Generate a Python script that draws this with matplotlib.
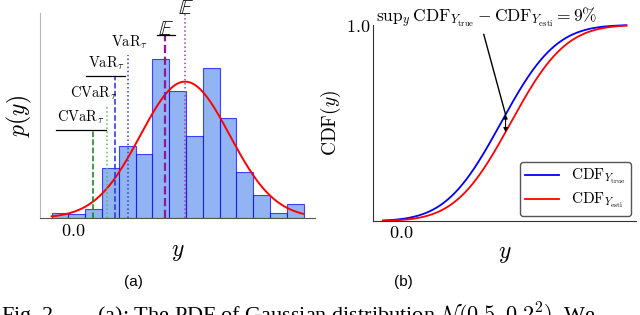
#!/usr/bin/env python3
"""PDF histogram with risk measures (a) and true vs estimated CDF (b)."""
import math

import numpy as np
import matplotlib
matplotlib.use("Agg")
import matplotlib.pyplot as plt

plt.rcParams["mathtext.fontset"] = "cm"
plt.rcParams["font.family"] = ["DejaVu Serif"]

# (a) histogram (density units)
BIN_LO, BIN_HI = -0.097, 1.03
hist_heights = [0.073, 0.063, 0.136, 0.73, 1.06, 0.93, 2.32, 1.86,
                1.20, 2.19, 1.46, 0.67, 0.33, 0.073, 0.20]
pdf_mu, pdf_sigma = 0.5, 0.2

# vertical markers: x position, top height, label, underlined?, colour, style
mark_x = [0.090, 0.149, 0.187, 0.243, 0.409, 0.500]
mark_top = [1.29, 1.64, 2.08, 2.38, 2.68, 2.99]
mark_labels = [r"$\mathrm{CVaR}_\tau$", r"$\mathrm{CVaR}_\tau$",
               r"$\mathrm{VaR}_\tau$", r"$\mathrm{VaR}_\tau$",
               r"$\mathbb{E}$", r"$\mathbb{E}$"]
mark_under = [True, False, True, False, True, False]
mark_colors = ["#1a7a1a", "#55bb55", "#1f2fe0", "#3040d0", "#8a1a9a", "#a040b0"]
mark_styles = ["--", ":", "--", ":", "--", ":"]
label_dx = [-0.056, -0.059, -0.041, 0.007, 0.004, 0.003]

# (b) CDFs
cdf_true_mu, cdf_esti_mu, cdf_sigma = 0.46, 0.505, 0.2
cdf_lo, cdf_hi = -0.085, 1.04


def norm_cdf(x, mu, s):
    return np.array([0.5 * (1 + math.erf((v - mu) / (s * math.sqrt(2)))) for v in x])


fig = plt.figure(figsize=(6.4, 3.15), dpi=100)
ax1 = fig.add_axes([0.0625, 0.308, 0.430, 0.651])
ax2 = fig.add_axes([0.583, 0.298, 0.411, 0.623])

# ---- panel (a)
edges = np.linspace(BIN_LO, BIN_HI, len(hist_heights) + 1)
ax1.bar(edges[:-1], hist_heights, width=np.diff(edges), align="edge",
        color="#6495ED", alpha=0.7, edgecolor="blue", linewidth=0.8)
xs = np.linspace(BIN_LO, BIN_HI, 300)
ax1.plot(xs, np.exp(-0.5 * ((xs - pdf_mu) / pdf_sigma) ** 2) / (pdf_sigma * math.sqrt(2 * math.pi)),
         color="red", lw=1.4)

texts = []
for x, top, lab, und, c, ls, dx in zip(mark_x, mark_top, mark_labels, mark_under,
                                        mark_colors, mark_styles, label_dx):
    is_e = "mathbb" in lab
    lw = 1.6 if c.startswith("#8a") else 1.1
    ax1.plot([x, x], [0, top], color=c, ls=ls, lw=lw, clip_on=False)
    if is_e:
        t = ax1.text(x + dx, top + 0.0, lab, ha="center", va="baseline",
                     fontsize=15, math_fontfamily="stix", clip_on=False)
    else:
        t = ax1.text(x + dx, top + 0.06, lab, ha="center", va="bottom",
                     fontsize=10.5, clip_on=False)
    texts.append((t, und, top))

ax1.set_xlim(-0.149, 1.082)
ax1.set_ylim(0, 3.0)
ax1.set_xticks([0.0])
ax1.set_xticklabels([r"$0.0$"], fontsize=13)
ax1.set_yticks([])
ax1.tick_params(length=0, pad=3)
ax1.set_xlabel(r"$y$", fontsize=17, labelpad=0)
ax1.set_ylabel(r"$p(y)$", fontsize=17, labelpad=4)
for s in ("top", "right"):
    ax1.spines[s].set_visible(False)
ax1.spines["left"].set_color("#b8b8b8")
ax1.spines["bottom"].set_color("#555555")

# ---- panel (b)
ys = np.linspace(cdf_lo, cdf_hi, 400)
c_true = norm_cdf(ys, cdf_true_mu, cdf_sigma)
c_esti = norm_cdf(ys, cdf_esti_mu, cdf_sigma)
ax2.plot(ys, c_true, color="blue", lw=1.3, label=r"$\mathrm{CDF}_{Y_{\mathrm{true}}}$", clip_on=False)
ax2.plot(ys, c_esti, color="red", lw=1.3, label=r"$\mathrm{CDF}_{Y_{\mathrm{esti}}}$", clip_on=False)

k = int(np.argmax(c_true - c_esti))
ax2.annotate("", xy=(ys[k], c_esti[k]), xytext=(ys[k], c_true[k]),
             arrowprops=dict(arrowstyle="<|-|>", color="black", lw=0.8,
                             mutation_scale=6, shrinkA=0, shrinkB=0))
ax2.annotate(r"$\mathrm{sup}_y\,\mathrm{CDF}_{Y_{\mathrm{true}}} - \mathrm{CDF}_{Y_{\mathrm{esti}}} = 9\%$",
             xy=(ys[k], c_true[k]), xytext=(0.433, 1.035), textcoords="axes fraction",
             ha="center", va="center", fontsize=12.5,
             arrowprops=dict(arrowstyle="-", color="black", lw=1.0,
                             relpos=(0.48, 0.0), shrinkA=1, shrinkB=0))

ax2.set_xlim(-0.13, 1.085)
ax2.set_ylim(0, 1.0)
ax2.set_xticks([0.0])
ax2.set_xticklabels([r"$0.0$"], fontsize=13)
ax2.set_yticks([1.0])
ax2.set_yticklabels([r"$1.0$"], fontsize=13)
ax2.tick_params(length=0, pad=2)
ax2.set_xlabel(r"$y$", fontsize=17, labelpad=0)
ax2.set_ylabel(r"$\mathrm{CDF}(y)$", fontsize=14, labelpad=2)
for s in ("top", "right"):
    ax2.spines[s].set_visible(False)
for s in ("left", "bottom"):
    ax2.spines[s].set_color("#333333")
leg = ax2.legend(loc="lower right", fontsize=11, fancybox=True, framealpha=1,
                 handlelength=2.2, borderpad=0.35, labelspacing=0.3,
                 borderaxespad=0.35)
leg.get_frame().set_edgecolor("#555555")

# underline the "lower" labels using their rendered extents
fig.canvas.draw()
r = fig.canvas.get_renderer()
inv = ax1.transData.inverted()
for t, und, top in texts:
    if not und:
        continue
    bb = t.get_window_extent(r)
    (x0, _), (x1, _) = inv.transform([(bb.x0, bb.y0), (bb.x1, bb.y0)])
    ax1.plot([x0 - 0.005, x1 + 0.005], [top, top], color="black", lw=0.9, clip_on=False)

# sub-captions and the cut-off figure caption
fig.text(0.208, 0.105, "(a)", ha="center", va="center", fontsize=11, family="Liberation Sans")
fig.text(0.630, 0.105, "(b)", ha="center", va="center", fontsize=11, family="Liberation Sans")
fig.text(0.002, -0.024,
         r"Fig. 2.       (a): The PDF of Gaussian distribution $\mathcal{N}(0.5, 0.2^2)$. We",
         ha="left", va="baseline", fontsize=16, family="Liberation Serif")

fig.savefig("out.png", dpi=100)
